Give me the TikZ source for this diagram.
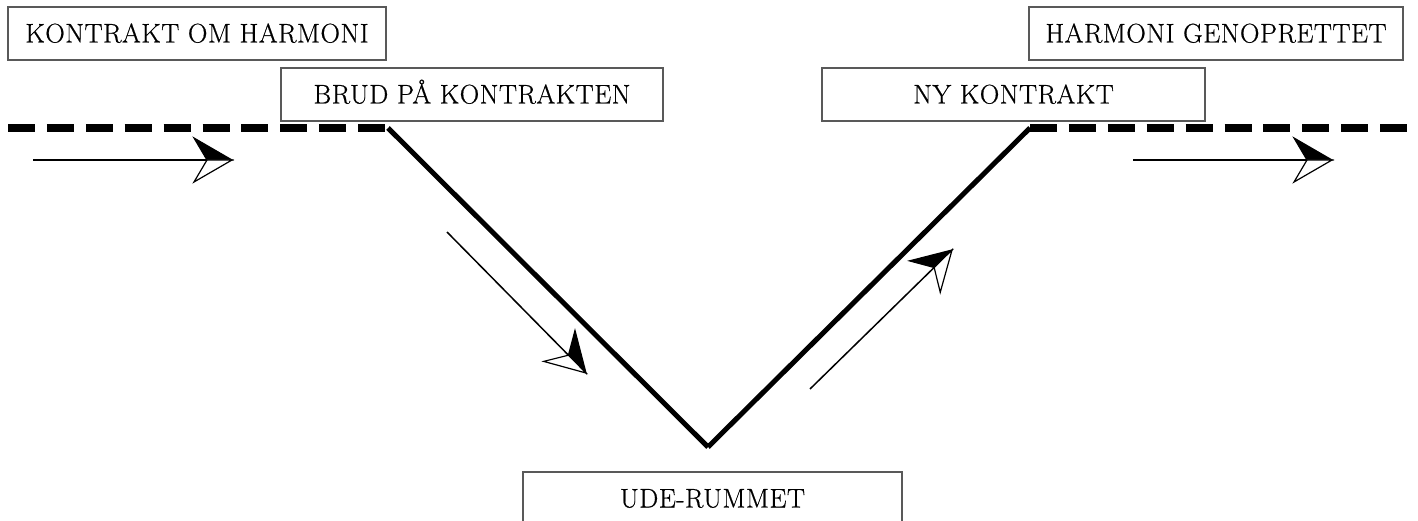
\documentclass[tikz,border=0pt]{standalone}
\usepackage{fontspec}
\setmainfont{Latin Modern Roman}
\newfontfamily\boxfont[LetterSpace=2, FakeBold=0.6]{Latin Modern Roman}
\begin{document}
\begin{tikzpicture}[x=1pt,y=-1pt,
  box/.style={draw=black!65, line width=1.3pt, minimum height=53pt, inner sep=0pt,
    text height=18pt, text depth=0pt, font=\boxfont\fontsize{27}{30}\selectfont},
  dashline/.style={line width=8pt, dash pattern=on 27pt off 11.9pt},
  vline/.style={line width=5pt},
  shaft/.style={line width=1.8pt, shorten >=24pt},
  halfhead/.pic={
    \filldraw[line width=1.2pt, line join=miter] (0,0) -- (-38,-22) -- (-25,0) -- cycle;
    \filldraw[fill=white, line width=1.2pt, line join=miter] (0,0) -- (-25,0) -- (-38,22) -- cycle;
  }]
\useasboundingbox (0,0) rectangle (1418,521);
% boxes
\node[box, minimum width=378pt] (kontrakt) at (197,33.5) {KONTRAKT OM HARMONI};
\node[box, minimum width=382pt] (brud) at (472,94.5) {BRUD PÅ KONTRAKTEN};
\node[box, minimum width=383pt] (ny) at (1013.5,94.5) {NY KONTRAKT};
\node[box, minimum width=374pt] (genop) at (1216,33.5) {HARMONI GENOPRETTET};
\node[box, minimum width=379pt] (ude) at (712.5,498.5) {UDE-RUMMET};
% line coordinates
\coordinate (l0) at (8,128);
\coordinate (l1) at (388,128);
\coordinate (vb) at (708,447);
\coordinate (r1) at (1030,128);
\coordinate (r0) at (1410,128);
\draw[dashline] (l0) -- (l1);
\draw[dashline] (r1) -- (r0);
\draw[vline] (l1) -- (vb);
\draw[vline] (vb) -- (r1);
% arrows
\coordinate (a1s) at (33,160);
\coordinate (a1t) at (232,160);
\coordinate (a2s) at (1133,160);
\coordinate (a2t) at (1332,160);
\coordinate (a3s) at (447,232);
\coordinate (a3t) at (586,373);
\coordinate (a4s) at (810,389);
\coordinate (a4t) at (952,250);
\draw[shaft] (a1s) -- (a1t);
\path (a1t) pic{halfhead};
\draw[shaft] (a2s) -- (a2t);
\path (a2t) pic{halfhead};
\draw[shaft, line width=1.5pt] (a3s) -- (a3t);
\path (a3t) pic[rotate=-45.4]{halfhead};
\draw[shaft, line width=1.5pt] (a4s) -- (a4t);
\path (a4t) pic[rotate=44.4]{halfhead};
\end{tikzpicture}
\end{document}
